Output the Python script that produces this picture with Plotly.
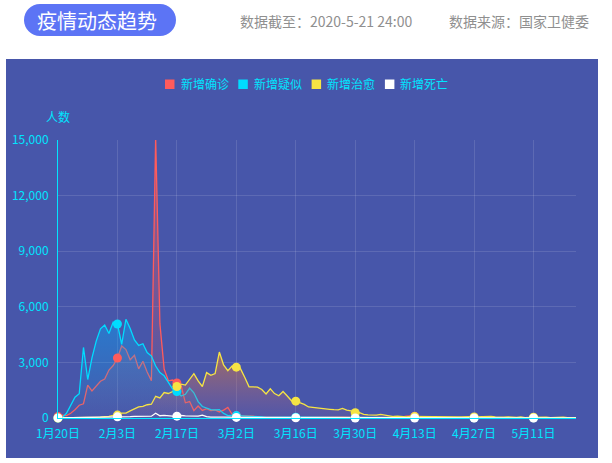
import pandas as pd
import plotly.graph_objects as go

# ===== DATA (daily new cases, China) =====
dates = pd.date_range("2020-01-20", "2020-05-21", freq="D")

confirmed = [
    77, 149, 131, 259, 444, 688, 769, 1771, 1459, 1737, 1981, 2099,
    2590, 2829, 3235, 3887, 3694, 3143, 3385, 2652, 3062, 2478, 2015, 15152, 5090, 2641, 2009,
    2048, 1886, 1749, 820, 889, 397, 648, 409, 508, 406, 433, 327, 427, 573,
    202, 125, 119, 139, 143, 99, 44, 40, 19, 24, 15, 8, 11, 20, 16, 21, 13, 34, 39, 41, 46,
    39, 78, 47, 67, 55, 54, 45, 31, 48, 36,
    35, 31, 19, 30, 39, 32, 62, 63, 42, 46, 99, 108, 89, 46, 46, 26, 27, 16, 12, 11, 30,
    10, 6, 6, 12, 11, 3, 22, 4, 12,
    2, 1, 3, 1, 2, 2, 4, 1, 14, 17, 5, 7, 3, 4, 8, 5, 7, 6, 6, 5, 4,
]
suspected = [
    0, 26, 257, 680, 1118, 1309, 3806, 2077, 3248, 4148, 4812, 5019,
    4562, 5173, 5072, 3971, 5328, 4833, 4214, 3916, 4008, 3536, 3342, 2807, 2450, 2277, 1918,
    1563, 1432, 1185, 1277, 1614, 1361, 882, 620, 530, 452, 439, 452, 248, 132,
    141, 129, 143, 143, 102, 99, 84, 60, 36, 31, 33, 33, 17, 39, 41, 45, 45, 42, 42, 49, 47,
    57, 50, 74, 53, 36, 41, 38, 29, 33, 25,
    42, 36, 30, 25, 30, 38, 47, 30, 35, 28, 54, 60, 48, 40, 26, 22, 14, 15, 10, 14, 8,
    13, 10, 8, 6, 7, 5, 5, 6, 4,
    3, 4, 2, 3, 2, 4, 3, 2, 5, 3, 6, 4, 3, 2, 3, 2, 4, 3, 2, 3, 2,
]
cured = [
    0, 4, 6, 6, 3, 11, 2, 9, 43, 21, 47, 72,
    85, 147, 157, 262, 261, 387, 510, 600, 632, 716, 744, 1171, 1081, 1373, 1323,
    1425, 1701, 1824, 1779, 2109, 2393, 1999, 1700, 2450, 2300, 2400, 3560, 2860, 2550,
    2800, 2742, 2652, 2189, 1681, 1678, 1661, 1535, 1297, 1578, 1318, 1200, 1430, 1189, 930,
    907, 816, 733, 594, 561, 539, 509, 489, 470, 450, 442, 520, 430, 390, 281, 284,
    200, 167, 160, 150, 200, 160, 110, 80, 100, 60, 55, 80, 75, 60, 60, 65, 60, 50, 70, 60,
    45, 50, 55, 60, 45, 70, 60, 70, 50, 60,
    80, 60, 40, 50, 60, 40, 30, 60, 20, 30, 40, 20, 30, 50, 20, 40, 30, 50, 20, 30, 20,
]
deaths = [
    3, 3, 8, 8, 16, 15, 24, 26, 26, 38, 43, 46,
    45, 57, 64, 65, 73, 73, 86, 89, 97, 108, 97, 254, 121, 143, 142,
    105, 98, 136, 114, 118, 109, 97, 150, 71, 52, 29, 44, 47, 35,
    42, 31, 38, 31, 30, 28, 27, 22, 17, 22, 11, 7, 13, 10, 14, 13, 11, 8, 3, 7, 6,
    9, 7, 4, 6, 5, 3, 5, 4, 1, 7,
    6, 4, 4, 3, 1, 2, 0, 2, 1, 3, 0, 2, 0, 0, 0, 0, 0, 0, 0, 0, 0,
    0, 0, 0, 0, 0, 0, 0, 0, 0,
    0, 0, 0, 0, 0, 0, 0, 0, 0, 0, 0, 0, 0, 0, 0, 0, 0, 0, 0, 0, 0,
]

series_names = ["新增确诊", "新增疑似", "新增治愈", "新增死亡"]
series_values = [confirmed, suspected, cured, deaths]
series_colors = ["#ff5b5b", "#00dcff", "#f6e444", "#ffffff"]
# area gradients: (bottom, top)
fill_grads = [
    ("rgba(255,91,91,0.02)", "rgba(255,91,91,0.5)"),
    ("rgba(0,190,255,0.02)", "rgba(0,170,255,0.42)"),
    ("rgba(200,100,130,0.08)", "rgba(220,125,50,0.6)"),
    None,
]

y_ticks = [0, 3000, 6000, 9000, 12000, 15000]
x_tick_labels = ["1月20日", "2月3日", "2月17日", "3月2日", "3月16日",
                 "3月30日", "4月13日", "4月27日", "5月11日"]

# ===== GEOMETRY (pixels -> paper) =====
W, H = 612, 463
L, R, T, B = 58, 36, 140, 45
PW, PH = W - L - R, H - T - B
PANEL = "#4756aa"
CYAN = "#00e5ff"
GRID = "rgba(255,255,255,0.12)"
FONT = "Noto Sans CJK SC, sans-serif"


def fx(px):
    return (px - L) / PW


def fy(py):
    return (H - B - py) / PH


fig = go.Figure()

# lines + areas first
for name, vals, col, grad in zip(series_names, series_values, series_colors, fill_grads):
    kw = {}
    if grad is not None:
        kw = dict(fill="tozeroy",
                  fillgradient=dict(type="vertical", colorscale=[[0, grad[0]], [1, grad[1]]]))
    fig.add_trace(go.Scatter(
        x=dates, y=vals, name=name, mode="lines",
        line=dict(color=col, width=1.3),
        showlegend=False, hoverinfo="skip", **kw
    ))

# symbols every 14 days, on top of every area
for name, vals, col in zip(series_names, series_values, series_colors):
    fig.add_trace(go.Scatter(
        x=dates[::14], y=vals[::14], name=name, mode="markers",
        marker=dict(color=col, size=9, line=dict(width=0)),
        showlegend=False, hoverinfo="skip", cliponaxis=False
    ))

# ===== SHAPES: panel, title badge, legend icons =====
shapes = [dict(type="rect", xref="paper", yref="paper", layer="below",
               x0=fx(6), x1=fx(598), y0=fy(458), y1=fy(59),
               fillcolor=PANEL, line=dict(width=0))]

# pill badge
bx0, bx1, by0, by1, r = 24, 176, 4, 36, 16
k = 0.5523 * r
pts = [
    ("M", [(bx0 + r, by0)]),
    ("L", [(bx1 - r, by0)]),
    ("C", [(bx1 - r + k, by0), (bx1, by0 + r - k), (bx1, by0 + r)]),
    ("C", [(bx1, by0 + r + k), (bx1 - r + k, by1), (bx1 - r, by1)]),
    ("L", [(bx0 + r, by1)]),
    ("C", [(bx0 + r - k, by1), (bx0, by1 - r + k), (bx0, by1 - r)]),
    ("C", [(bx0, by1 - r - k), (bx0 + r - k, by0), (bx0 + r, by0)]),
]
path = " ".join(cmd + " " + " ".join(f"{fx(a):.5f},{fy(b):.5f}" for a, b in p) for cmd, p in pts) + " Z"
shapes.append(dict(type="path", xref="paper", yref="paper", path=path,
                   fillcolor="#5c74f5", line=dict(width=0), layer="above"))

annotations = [
    dict(text="疫情动态趋势", x=fx(97), y=fy(20), font=dict(size=20, color="white")),
    dict(text="数据截至：2020-5-21 24:00", x=fx(238), y=fy(21), xanchor="left",
         font=dict(size=14, color="#8f8f8f")),
    dict(text="数据来源：国家卫健委", x=fx(447), y=fy(21), xanchor="left",
         font=dict(size=14, color="#8f8f8f")),
    dict(text="人数", x=fx(58), y=fy(116), font=dict(size=12, color=CYAN)),
]

# legend drawn by hand (square icons, tight spacing)
for i, (name, col) in enumerate(zip(series_names, series_colors)):
    ix = 165 + i * 73.3
    shapes.append(dict(type="rect", xref="paper", yref="paper",
                       x0=fx(ix), x1=fx(ix + 9.5), y0=fy(89), y1=fy(79.5),
                       fillcolor=col, line=dict(width=0)))
    annotations.append(dict(text=name, x=fx(ix + 13.5), y=fy(84), xanchor="left",
                            font=dict(size=12, color=CYAN)))

for a in annotations:
    a.update(xref="paper", yref="paper", showarrow=False)
    a.setdefault("xanchor", "center")
    a.setdefault("yanchor", "middle")

fig.update_layout(
    width=W, height=H,
    margin=dict(l=L, r=R, t=T, b=B),
    paper_bgcolor="white", plot_bgcolor="rgba(0,0,0,0)",
    font=dict(family=FONT, size=12, color=CYAN),
    shapes=shapes, annotations=annotations,
    showlegend=False, hovermode=False,
)
fig.update_xaxes(
    type="date", range=[dates[0], dates[-1]],
    tickvals=dates[::14], ticktext=x_tick_labels,
    showgrid=True, gridcolor=GRID, gridwidth=1,
    showline=True, linecolor=CYAN, linewidth=1,
    ticks="outside", ticklen=5, tickcolor="rgba(0,0,0,0)",
    tickfont=dict(size=12, color=CYAN), zeroline=False,
)
fig.update_yaxes(
    range=[0, 15000], tickvals=y_ticks, tickformat=",",
    showgrid=True, gridcolor=GRID, gridwidth=1,
    showline=True, linecolor=CYAN, linewidth=1,
    ticks="outside", ticklen=6, tickcolor="rgba(0,0,0,0)",
    tickfont=dict(size=12, color=CYAN), zeroline=False,
)

# page body has an 8px default margin; drop it so the chart sits at 0,0
fig.write_html("out.html", config={"displayModeBar": False},
               post_script="document.body.style.margin='0';")
